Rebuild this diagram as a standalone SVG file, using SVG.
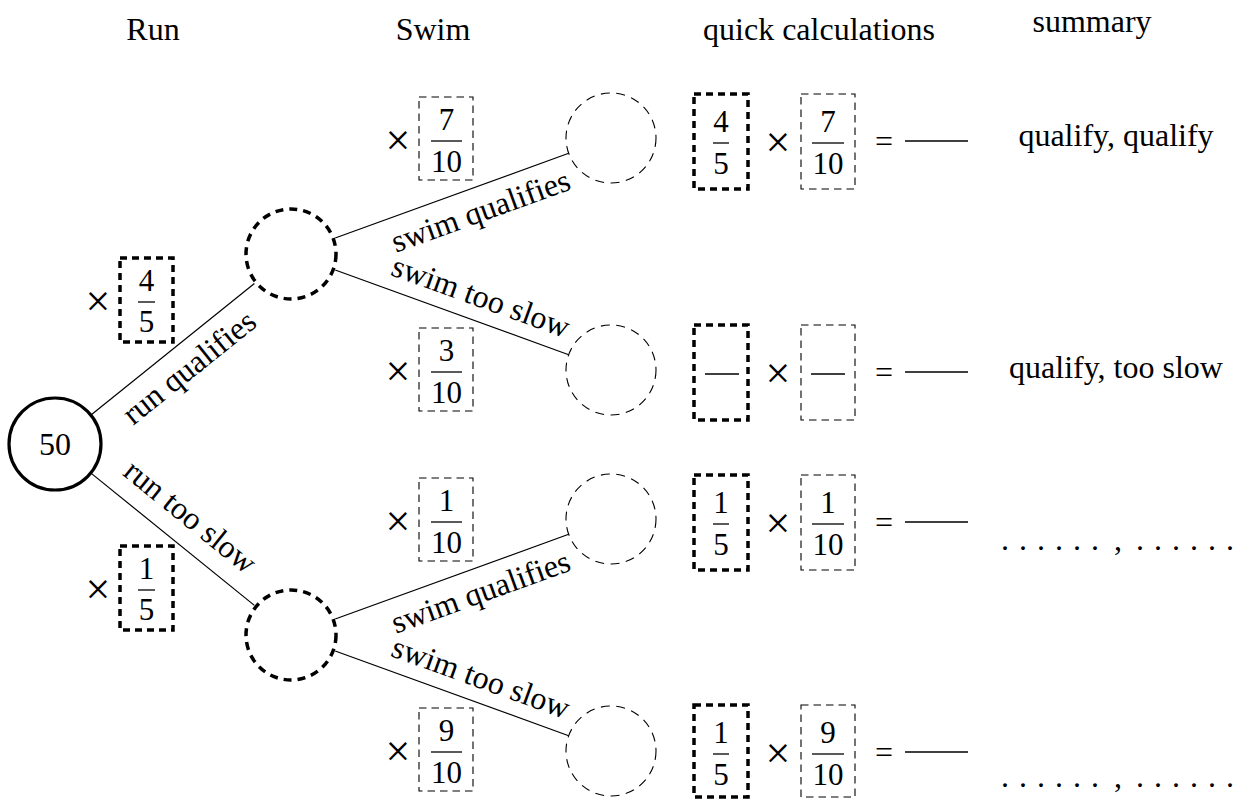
<svg xmlns="http://www.w3.org/2000/svg" width="1242" height="799" viewBox="0 0 1242 799" font-family="'Liberation Serif', 'Times New Roman', serif">
<style>
text{font-family:'Liberation Serif','Times New Roman',serif;font-size:32px;fill:#000;text-anchor:middle}
.fr{font-size:31px}
.x{font-size:44px}
.edge{stroke:#000;stroke-width:1.2;fill:none}
.root{fill:#fff;stroke:#000;stroke-width:3.2}
.thickc{fill:none;stroke:#000;stroke-width:3.5;stroke-dasharray:8 6}
.thinc{fill:none;stroke:#000;stroke-width:1.1;stroke-dasharray:9 6.5}
.thickb{fill:none;stroke:#000;stroke-width:3.5;stroke-dasharray:7 5}
.thinb{fill:none;stroke:#000;stroke-width:1.1;stroke-dasharray:7.5 5}
.bar{stroke:#000;stroke-width:1.3}
</style>

<g id="headers">
<text x="153" y="40">Run</text>
<text x="433" y="40">Swim</text>
<text x="819" y="40">quick calculations</text>
<text x="1092" y="32">summary</text>
</g>

<g id="connectors">
<line class="edge" x1="91.6" y1="414.5" x2="254.4" y2="283.5"/>
<line class="edge" x1="91.6" y1="473.6" x2="254.4" y2="605.4"/>
<line class="edge" x1="335.2" y1="238" x2="568.7" y2="153.3"/>
<line class="edge" x1="335.2" y1="270" x2="568.7" y2="354.7"/>
<line class="edge" x1="335.2" y1="619" x2="568.7" y2="534.3"/>
<line class="edge" x1="335.2" y1="651" x2="568.7" y2="735.7"/>
<text transform="translate(195.7,375.6) rotate(-38.8)">run qualifies</text>
<text transform="translate(183.8,524.8) rotate(39)">run too slow</text>
<text transform="translate(484.2,220.9) rotate(-19.9)">swim qualifies</text>
<text transform="translate(477.3,306.4) rotate(19.9)">swim too slow</text>
<text transform="translate(484.2,601.9) rotate(-19.9)">swim qualifies</text>
<text transform="translate(477.3,687.4) rotate(19.9)">swim too slow</text>
</g>

<g id="node-root">
<circle class="root" cx="55" cy="444" r="46"/>
<text x="55" y="455">50</text>
</g>
<g id="node-run-qualifies"><circle class="thickc" cx="291" cy="254" r="45"/></g>
<g id="node-run-too-slow"><circle class="thickc" cx="291" cy="635" r="45"/></g>
<g id="node-qq"><circle class="thinc" cx="611" cy="138" r="45"/></g>
<g id="node-qs"><circle class="thinc" cx="611" cy="370" r="45"/></g>
<g id="node-sq"><circle class="thinc" cx="611" cy="519" r="45"/></g>
<g id="node-ss"><circle class="thinc" cx="611" cy="751" r="45"/></g>

<g id="prob-run-qualifies">
<text class="x" x="98" y="316">×</text>
<rect class="thickb" x="120" y="258" width="53" height="84"/>
<text class="fr" x="146.5" y="291">4</text>
<line class="bar" x1="138" y1="302" x2="155" y2="302"/>
<text class="fr" x="146.5" y="332">5</text>
</g>
<g id="prob-run-too-slow">
<text class="x" x="98" y="604">×</text>
<rect class="thickb" x="120" y="546" width="53" height="84"/>
<text class="fr" x="146.5" y="579">1</text>
<line class="bar" x1="138" y1="590" x2="155" y2="590"/>
<text class="fr" x="146.5" y="620">5</text>
</g>

<g id="prob-qq">
<text class="x" x="398" y="155">×</text>
<rect class="thinb" x="419" y="97" width="54" height="83"/>
<text class="fr" x="446.5" y="130">7</text>
<line class="bar" x1="431" y1="141" x2="462" y2="141"/>
<text class="fr" x="446.5" y="172">10</text>
</g>
<g id="prob-qs">
<text class="x" x="398" y="386">×</text>
<rect class="thinb" x="419" y="328" width="54" height="83"/>
<text class="fr" x="446.5" y="361">3</text>
<line class="bar" x1="431" y1="372" x2="462" y2="372"/>
<text class="fr" x="446.5" y="403">10</text>
</g>
<g id="prob-sq">
<text class="x" x="398" y="536">×</text>
<rect class="thinb" x="419" y="478" width="54" height="83"/>
<text class="fr" x="446.5" y="511">1</text>
<line class="bar" x1="431" y1="522" x2="462" y2="522"/>
<text class="fr" x="446.5" y="553">10</text>
</g>
<g id="prob-ss">
<text class="x" x="398" y="766">×</text>
<rect class="thinb" x="419" y="708" width="54" height="83"/>
<text class="fr" x="446.5" y="741">9</text>
<line class="bar" x1="431" y1="752" x2="462" y2="752"/>
<text class="fr" x="446.5" y="783">10</text>
</g>

<g id="calc-1">
<rect class="thickb" x="694" y="94" width="54" height="95"/>
<text class="fr" x="721" y="132">4</text>
<line class="bar" x1="713" y1="143" x2="729" y2="143"/>
<text class="fr" x="721" y="174">5</text>
<text class="x" x="778" y="157">×</text>
<rect class="thinb" x="801" y="94" width="54" height="95"/>
<text class="fr" x="828" y="132">7</text>
<line class="bar" x1="812" y1="143" x2="844" y2="143"/>
<text class="fr" x="828" y="174">10</text>
<text x="884" y="152">=</text>
<line class="bar" x1="905" y1="141" x2="968" y2="141"/>
<text x="1116" y="146">qualify, qualify</text>
</g>
<g id="calc-2">
<rect class="thickb" x="694" y="325" width="54" height="95"/>
<line class="bar" x1="705" y1="374" x2="739" y2="374"/>
<text class="x" x="778" y="388">×</text>
<rect class="thinb" x="801" y="325" width="54" height="95"/>
<line class="bar" x1="811" y1="374" x2="845" y2="374"/>
<text x="884" y="383">=</text>
<line class="bar" x1="905" y1="372" x2="968" y2="372"/>
<text x="1116" y="378">qualify, too slow</text>
</g>
<g id="calc-3">
<rect class="thickb" x="694" y="475" width="54" height="95"/>
<text class="fr" x="721" y="513">1</text>
<line class="bar" x1="713" y1="524" x2="729" y2="524"/>
<text class="fr" x="721" y="555">5</text>
<text class="x" x="778" y="538">×</text>
<rect class="thinb" x="801" y="475" width="54" height="95"/>
<text class="fr" x="828" y="513">1</text>
<line class="bar" x1="812" y1="524" x2="844" y2="524"/>
<text class="fr" x="828" y="555">10</text>
<text x="884" y="533">=</text>
<line class="bar" x1="905" y1="522" x2="968" y2="522"/>
<text x="1005 1023 1041 1059 1077 1095 1118 1140 1158 1176 1194 1212 1230" y="550">......,......</text>
</g>
<g id="calc-4">
<rect class="thickb" x="694" y="705" width="54" height="92"/>
<text class="fr" x="721" y="743">1</text>
<line class="bar" x1="713" y1="754" x2="729" y2="754"/>
<text class="fr" x="721" y="785">5</text>
<text class="x" x="778" y="768">×</text>
<rect class="thinb" x="801" y="705" width="54" height="92"/>
<text class="fr" x="828" y="743">9</text>
<line class="bar" x1="812" y1="754" x2="844" y2="754"/>
<text class="fr" x="828" y="785">10</text>
<text x="884" y="763">=</text>
<line class="bar" x1="905" y1="752" x2="968" y2="752"/>
<text x="1005 1023 1041 1059 1077 1095 1118 1140 1158 1176 1194 1212 1230" y="787">......,......</text>
</g>
</svg>
